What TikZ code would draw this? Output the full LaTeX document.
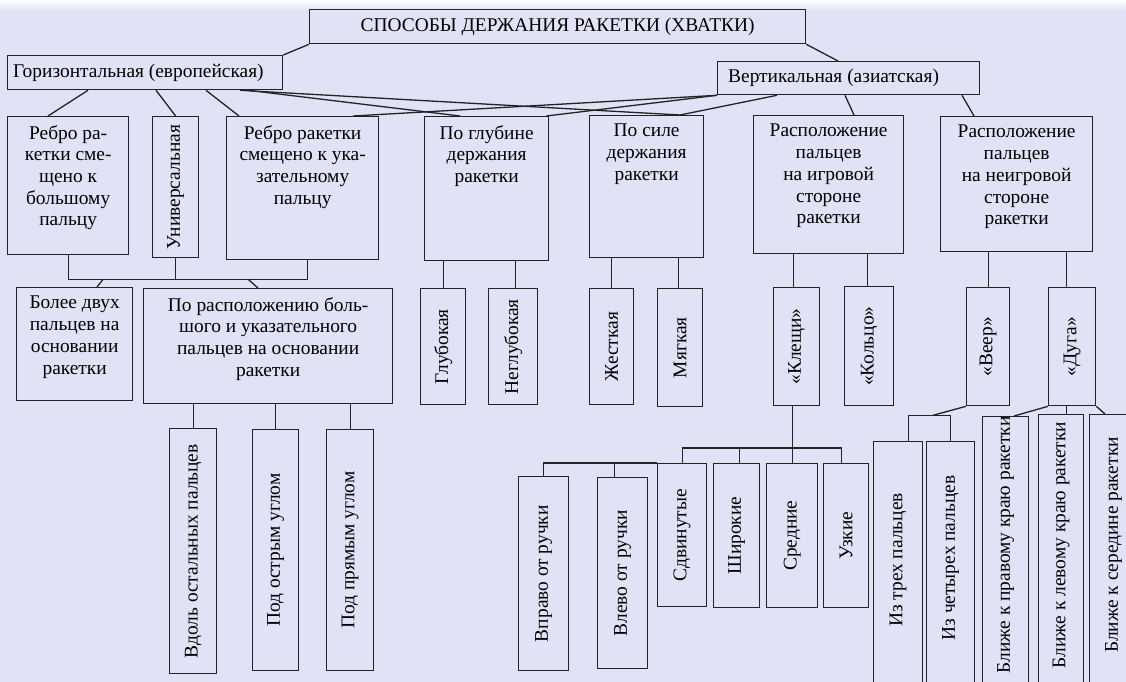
\documentclass[tikz,border=0pt]{standalone}
\usepackage{fontspec}
\setmainfont{Liberation Serif}
\usepackage{xcolor}
\usetikzlibrary{calc}

\definecolor{bgcol}{RGB}{226,226,246}
\definecolor{linecol}{RGB}{35,35,35}

\begin{document}
\begin{tikzpicture}[
  x=1pt, y=-1pt,
  font=\fontsize{19.4}{21.7}\selectfont,
  box/.style={draw=linecol, line width=1.3pt, fill=bgcol, anchor=north west, inner sep=0pt},
  toptext/.style={label={[anchor=north, align=center, inner sep=0pt, yshift=-9pt]north:#1}},
  vlab/.style 2 args={label={[anchor=center, inner sep=0pt, yshift=-#1]north:\rotatebox{90}{#2}}},
  conn/.style={draw=linecol, line width=1.3pt}
]
\useasboundingbox (0,0) rectangle (1126,682);
\clip (0,0) rectangle (1126,682);
\fill[bgcol] (0,0) rectangle (1126,682);
\shade[top color=white, bottom color=bgcol] (0,0) rectangle (1126,10);

% top levels
\node[box, minimum width=496, minimum height=34] (top) at (309,9) {СПОСОБЫ ДЕРЖАНИЯ РАКЕТКИ (ХВАТКИ)};
\node[box, minimum width=275, minimum height=34,
  label={[anchor=west, inner sep=0pt, xshift=6pt]west:Горизонтальная (европейская)}] (hor) at (7,55) {};
\node[box, minimum width=262, minimum height=33,
  label={[anchor=west, inner sep=0pt, xshift=11pt]west:Вертикальная (азиатская)}] (ver) at (717,61) {};

% second row
\node[box, minimum width=121, minimum height=138, toptext={Ребро ра-\\кетки сме-\\щено к\\большому\\пальцу}] (rbig) at (7,116) {};
\node[box, minimum width=46, minimum height=141] (univ) at (152,116) {\rotatebox{90}{Универсальная}};
\node[box, minimum width=152, minimum height=143, toptext={Ребро ракетки\\смещено к ука-\\зательному\\пальцу}] (rind) at (226,116) {};
\node[box, minimum width=124, minimum height=144, toptext={По глубине\\держания\\ракетки}] (glub) at (424,116) {};
\node[box, minimum width=114, minimum height=142, toptext={По силе\\держания\\ракетки}] (sila) at (589,115) {};
\node[box, minimum width=150, minimum height=138, toptext={Расположение\\пальцев\\на игровой\\стороне\\ракетки}] (igr) at (753,115) {};
\node[box, minimum width=152, minimum height=135, toptext={Расположение\\пальцев\\на неигровой\\стороне\\ракетки}] (neigr) at (940,116) {};

% third row
\node[box, minimum width=116, minimum height=113, toptext={Более двух\\пальцев на\\основании\\ракетки}] (bolee) at (16,287) {};
\node[box, minimum width=249, minimum height=115, toptext={По расположению боль-\\шого и указательного\\пальцев на основании\\ракетки}] (porasp) at (143,288) {};
\node[box, minimum width=45, minimum height=116] (gluboka) at (420,288) {\rotatebox{90}{Глубокая}};
\node[box, minimum width=49, minimum height=116] (negl) at (488,288) {\rotatebox{90}{Неглубокая}};
\node[box, minimum width=44, minimum height=116] (zhest) at (589,288) {\rotatebox{90}{Жесткая}};
\node[box, minimum width=45, minimum height=118] (myag) at (657,288) {\rotatebox{90}{Мягкая}};
\node[box, minimum width=46, minimum height=118] (klesh) at (773,287) {\rotatebox{90}{«Клещи»}};
\node[box, minimum width=49, minimum height=119] (kolco) at (844,286) {\rotatebox{90}{«Кольцо»}};
\node[box, minimum width=43, minimum height=118] (veer) at (966,287) {\rotatebox{90}{«Веер»}};
\node[box, minimum width=47, minimum height=118] (duga) at (1048,287) {\rotatebox{90}{«Дуга»}};

% bottom row
\node[box, minimum width=47, minimum height=245] (vdol) at (169,428) {\rotatebox{90}{Вдоль остальных пальцев}};
\node[box, minimum width=46, minimum height=241] (ostr) at (252,429) {\rotatebox{90}{Под острым углом}};
\node[box, minimum width=47, minimum height=241] (pryam) at (326,429) {\rotatebox{90}{Под прямым углом}};
\node[box, minimum width=50, minimum height=194] (vpravo) at (518,476) {\rotatebox{90}{Вправо от ручки}};
\node[box, minimum width=50, minimum height=191] (vlevo) at (597,477) {\rotatebox{90}{Влево от ручки}};
\node[box, minimum width=49, minimum height=143] (sdvin) at (657,463) {\rotatebox{90}{Сдвинутые}};
\node[box, minimum width=46, minimum height=144] (shir) at (713,463) {\rotatebox{90}{Широкие}};
\node[box, minimum width=51, minimum height=144] (sred) at (766,463) {\rotatebox{90}{Средние}};
\node[box, minimum width=45, minimum height=144] (uzk) at (823,463) {\rotatebox{90}{Узкие}};
\node[box, minimum width=49, minimum height=260, vlab={119}{Из трех пальцев}] (tri) at (873,441) {};
\node[box, minimum width=48, minimum height=260, vlab={117}{Из четырех пальцев}] (chet) at (926,441) {};
\node[box, minimum width=46, minimum height=285, vlab={129}{Ближе к правому краю ракетки}] (pravo) at (982,416) {};
\node[box, minimum width=45, minimum height=287, vlab={131}{Ближе к левому краю ракетки}] (levo) at (1038,414) {};
\node[box, minimum width=48, minimum height=287, vlab={131}{Ближе к середине ракетки}] (sered) at (1089,414) {};

% first level links
\draw[conn] (hor.north east) -- (top.south west);
\draw[conn] (top.south east) -- ([xshift=121]ver.north west);
\draw[conn] ([xshift=81]hor.south west) -- ([xshift=41]rbig.north west);
\draw[conn] ([xshift=149]hor.south west) -- (univ.north);
\draw[conn] ([xshift=199]hor.south west) -- ([xshift=13]rind.north west);
\draw[conn] ([xshift=241]hor.south west) -- ([xshift=36]glub.north west);
\draw[conn] ([xshift=233]hor.south west) -- ([xshift=91]sila.north west);
\draw[conn] (ver.south west) -- ([xshift=127]rind.north west);
\draw[conn] (ver.south west) -- ([xshift=-3]glub.north east);
\draw[conn] ([xshift=60]ver.south west) -- ([xshift=91]sila.north west);
\draw[conn] ([xshift=128]ver.south west) -- ([xshift=101]igr.north west);
\draw[conn] ([xshift=245]ver.south west) -- ([xshift=34]neigr.north west);

% horizontal grip
\coordinate (bus1) at ([yshift=-24]rbig.south);
\draw[conn] (rbig.south) -- (bus1) -| ([xshift=5]rind.south);
\draw[conn] (univ.south) -- (univ.south |- bus1);
\draw[conn] ([xshift=35]bus1) -- ([xshift=81]bolee.north west);
\draw[conn] ([xshift=180]bus1) -- ([xshift=115]porasp.north west);
\foreach \n in {vdol,ostr,pryam}
  \draw[conn] (\n.north) -- (\n.north |- porasp.south);

% depth and force
\draw[conn] (gluboka.north) -- (gluboka.north |- glub.south);
\draw[conn] ([xshift=2]negl.north) -- ([xshift=2]negl.north |- glub.south);
\draw[conn] (zhest.north) -- (zhest.north |- sila.south);
\draw[conn] ([xshift=-2]myag.north) -- ([xshift=-2]myag.north |- sila.south);

% playing side
\draw[conn] ([xshift=-3]klesh.north) -- ([xshift=-3]klesh.north |- igr.south);
\draw[conn] ([xshift=-2]kolco.north) -- ([xshift=-2]kolco.north |- igr.south);
\draw[conn] (klesh.south -| sred.north) -- (sred.north);
\coordinate (bus2) at ([yshift=15]sdvin.north);
\draw[conn] (sdvin.north) -- (bus2) -| ([xshift=-5]uzk.north);
\draw[conn] ([xshift=3]shir.north) -- ([xshift=3]shir.north |- bus2);
\draw[conn] (sdvin.north west) -| (vpravo.north);
\draw[conn] ([xshift=-8]vlevo.north) -- ([xshift=-8]vlevo.north |- sdvin.north);

% non-playing side
\draw[conn] (veer.north) -- (veer.north |- neigr.south);
\draw[conn] ([xshift=-6]duga.north) -- ([xshift=-6]duga.north |- neigr.south);
\coordinate (bus3) at ([xshift=-33,yshift=-9]veer.south west);
\draw[conn] (veer.south west) -- (bus3);
\draw[conn] ([xshift=10]tri.north) |- (bus3) -| (chet.north);
\draw[conn] (duga.south west) -- ([xshift=32]pravo.north west);
\draw[conn] ([xshift=-6]duga.south) -- ([xshift=-6]duga.south |- levo.north);
\draw[conn] (duga.south east) -- ([xshift=16]sered.north west);
\end{tikzpicture}
\end{document}
